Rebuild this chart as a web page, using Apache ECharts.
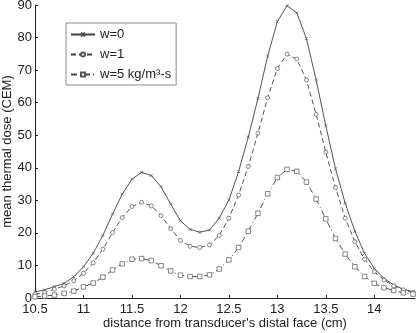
<!DOCTYPE html>
<html>
<head>
<meta charset="utf-8">
<script src="https://cdn.jsdelivr.net/npm/echarts@6/dist/echarts.min.js"></script>
<style>
  html, body { margin: 0; padding: 0; background: #fff; }
  #chart { width: 416px; height: 333px; }
</style>
</head>
<body>
<div id="chart"></div>
<script>
// distance from transducer's distal face (cm)
const distance = [10.5, 10.6, 10.7, 10.8, 10.9, 11.0, 11.1, 11.2, 11.3, 11.4,
  11.5, 11.6, 11.7, 11.8, 11.9, 12.0, 12.1, 12.2, 12.3, 12.4,
  12.5, 12.6, 12.7, 12.8, 12.9, 13.0, 13.1, 13.2, 13.3, 13.4,
  13.5, 13.6, 13.7, 13.8, 13.9, 14.0, 14.1, 14.2, 14.3, 14.4];
// mean thermal dose (CEM)
const doseW0 = [1.9, 2.5, 3.5, 4.5, 6.5, 9.6, 13.7, 19.2, 25.8, 31.9,
  36.5, 38.6, 37.6, 34.2, 28.8, 23.7, 21.1, 20.2, 20.9, 24.5,
  30.1, 38.8, 49.4, 61.3, 74.3, 84.9, 89.8, 87.6, 79.7, 67.0,
  52.9, 39.7, 29.1, 20.5, 13.7, 9.1, 6.0, 4.0, 2.7, 1.9];
const doseW1 = [1.2, 1.6, 2.7, 3.7, 5.3, 7.6, 10.8, 15.0, 20.1, 24.7,
  28.1, 29.4, 28.3, 25.3, 21.3, 17.7, 15.9, 15.5, 16.3, 19.2,
  24.5, 31.6, 40.4, 50.6, 61.5, 70.5, 74.9, 73.4, 67.0, 56.4,
  44.8, 33.9, 24.5, 17.3, 11.9, 8.1, 5.5, 3.7, 2.5, 1.6];
const doseW5 = [0.4, 0.6, 0.9, 1.4, 2.1, 3.4, 4.6, 6.4, 8.6, 10.5,
  11.9, 12.1, 11.5, 9.9, 8.3, 7.0, 6.6, 6.6, 7.1, 8.9,
  11.7, 15.5, 20.5, 26.0, 32.0, 37.0, 39.5, 38.9, 35.6, 30.4,
  24.3, 18.3, 13.5, 9.6, 6.6, 4.5, 3.2, 2.3, 1.6, 1.2];
const seriesNames = ["w=0", "w=1", "w=5 kg/m³-s"];
const xTicks = [10.5, 11, 11.5, 12, 12.5, 13, 13.5, 14];
const yTicks = [0, 10, 20, 30, 40, 50, 60, 70, 80, 90];

const pairs = (ys) => distance.map((x, i) => [x, ys[i]]);
const ink = "#404040";
const markInk = "#555";
const font = "Liberation Sans";
// hollow markers: white fill, thin grey outline
const hollow = { color: "#fff", borderColor: markInk, borderWidth: 0.7 };

const chart = echarts.init(document.getElementById("chart"));
const option = {
  backgroundColor: "#fff",
  animation: false,
  grid: { left: 35, right: 1, top: 5, bottom: 35, outerBoundsMode: "none", containLabel: false },
  legend: {
    orient: "vertical",
    left: 66,
    top: 23,
    padding: [5, 5, 4, 4],
    itemGap: 7,
    itemWidth: 24,
    itemHeight: 5,
    backgroundColor: "#fff",
    borderColor: "#8a8a8a",
    borderWidth: 1,
    textStyle: { fontFamily: font, fontSize: 13, color: "#222" },
    data: seriesNames,
  },
  xAxis: {
    type: "value",
    min: xTicks[0],
    max: 14.42,
    interval: 0.5,
    name: "distance from transducer's distal face (cm)",
    nameLocation: "middle",
    nameGap: 19,
    nameMoveOverlap: false,
    nameTextStyle: { fontFamily: font, fontSize: 13, color: "#222" },
    axisLine: { lineStyle: { color: "#222", width: 1 } },
    axisTick: { inside: true, length: 3, lineStyle: { color: "#222" } },
    axisLabel: {
      fontFamily: font, fontSize: 13, color: "#222", margin: 5,
      showMaxLabel: false,
      formatter: (v) => (xTicks.includes(v) ? String(v) : ""),
    },
    splitLine: { show: false },
  },
  yAxis: {
    type: "value",
    min: yTicks[0],
    max: yTicks[yTicks.length - 1],
    interval: 10,
    name: "mean thermal dose (CEM)",
    nameLocation: "middle",
    nameGap: 21,
    nameMoveOverlap: false,
    nameTextStyle: { fontFamily: font, fontSize: 13, color: "#222" },
    axisLine: { show: true, lineStyle: { color: "#222", width: 1 } },
    axisTick: { show: true, inside: true, length: 3, lineStyle: { color: "#222" } },
    axisLabel: { fontFamily: font, fontSize: 13, color: "#222", margin: 3 },
    splitLine: { show: false },
  },
  series: [
    {
      name: seriesNames[0],
      type: "line",
      data: pairs(doseW0),
      symbol: "path://M0,0L10,10M10,0L0,10",
      symbolSize: 3,
      itemStyle: hollow,
      lineStyle: { color: ink, width: 0.9, type: "solid" },
    },
    {
      name: seriesNames[1],
      type: "line",
      data: pairs(doseW1),
      symbol: "circle",
      symbolSize: 4,
      itemStyle: hollow,
      lineStyle: { color: ink, width: 0.9, type: [5, 3] },
    },
    {
      name: seriesNames[2],
      type: "line",
      data: pairs(doseW5),
      symbol: "rect",
      symbolSize: 4.5,
      itemStyle: hollow,
      lineStyle: { color: ink, width: 0.9, type: [6, 3, 1, 3] },
    },
  ],
};
chart.setOption(option);
</script>
</body>
</html>
